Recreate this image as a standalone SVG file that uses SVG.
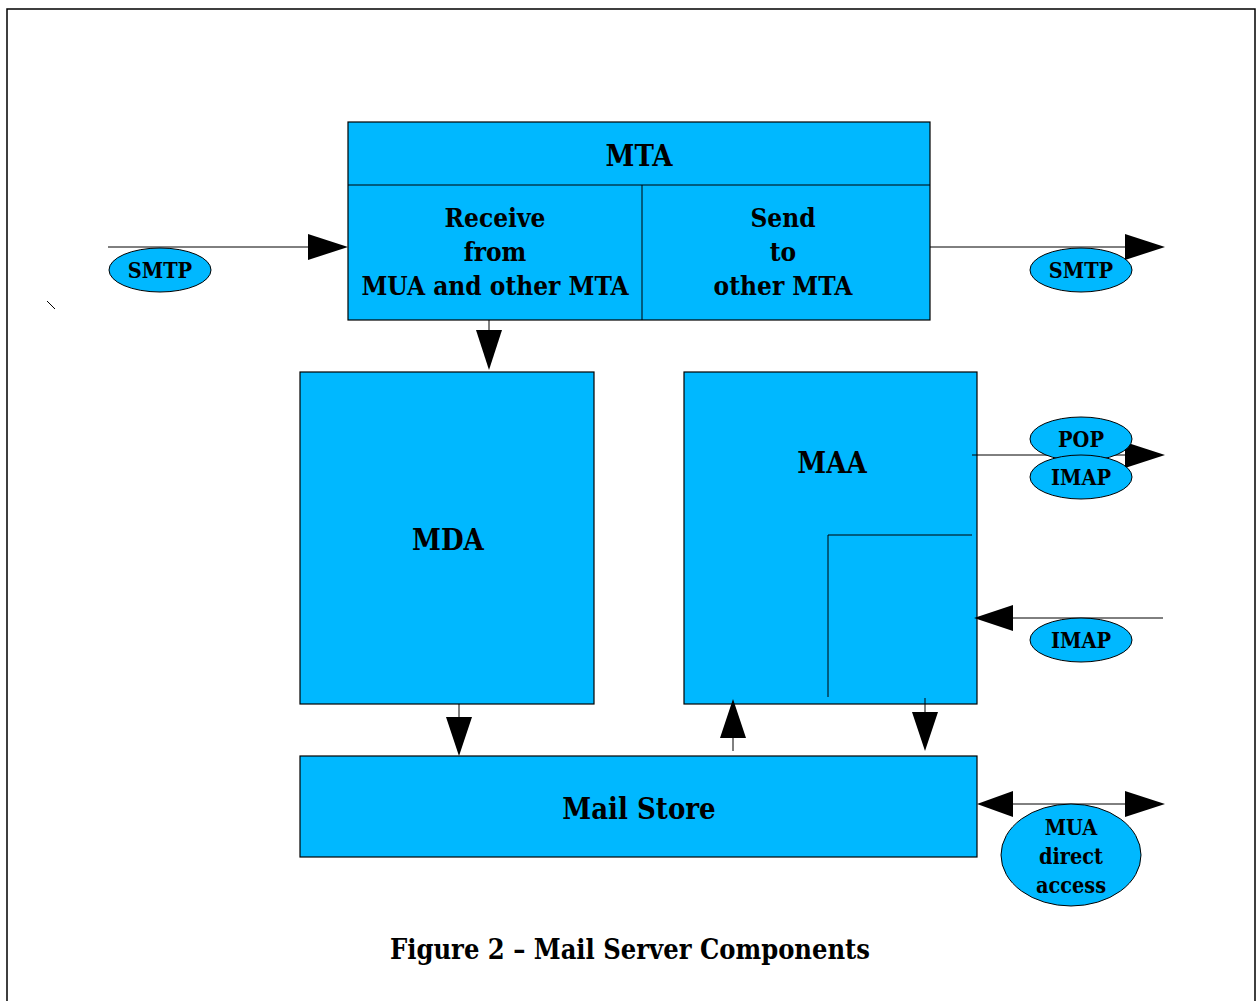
<svg xmlns="http://www.w3.org/2000/svg" width="1260" height="1001" viewBox="0 0 1260 1001">
<style>
.box{fill:#00b8ff;stroke:#000;stroke-width:1.2}
.lbl{fill:#00b8ff;stroke:#000;stroke-width:1}
.ln{stroke:#000;stroke-width:1;fill:none}
.ah{fill:#000}
text{font-family:"DejaVu Serif Condensed","DejaVu Serif",serif;font-weight:bold;fill:#000;text-anchor:middle}
.t29{font-size:29px}
.t26{font-size:26px}
.t27{font-size:27px}
.t21{font-size:21.5px}
</style>
<rect width="1260" height="1001" fill="#fff"/>
<g id="frame">
<path d="M7,1001 V9 H1255 V1001" fill="none" stroke="#000" stroke-width="1.5"/>
<line x1="47" y1="301" x2="55" y2="309" stroke="#000" stroke-width="1"/>
</g>
<g id="mta">
<rect class="box" x="348" y="122" width="582" height="198"/>
<line class="ln" x1="348" y1="185" x2="930" y2="185"/>
<line class="ln" x1="642" y1="185" x2="642" y2="320"/>
<text class="t29" x="639" y="166">MTA</text>
<text class="t26" x="495" y="227">Receive</text>
<text class="t26" x="495" y="261">from</text>
<text class="t26" x="495" y="295">MUA and other MTA</text>
<text class="t26" x="783" y="227">Send</text>
<text class="t26" x="783" y="261">to</text>
<text class="t26" x="783" y="295">other MTA</text>
</g>
<g id="mda">
<rect class="box" x="300" y="372" width="294" height="332"/>
<text class="t29" x="448" y="550">MDA</text>
</g>
<g id="maa">
<rect class="box" x="684" y="372" width="293" height="332"/>
<text class="t29" x="832" y="473">MAA</text>
<path class="ln" d="M828,697 V535 H972"/>
</g>
<g id="mailstore">
<rect class="box" x="300" y="756" width="677" height="101"/>
<text class="t29" x="639" y="819">Mail Store</text>
</g>
<g id="connectors">
<line class="ln" x1="108" y1="247" x2="310" y2="247"/>
<path class="ah" d="M348,247 L308,234 L308,260 Z"/>
<line class="ln" x1="930" y1="247" x2="1127" y2="247"/>
<path class="ah" d="M1165,247 L1125,234 L1125,260 Z"/>
<line class="ln" x1="489" y1="320" x2="489" y2="332"/>
<path class="ah" d="M489,370 L476,330 L502,330 Z"/>
<line class="ln" x1="972" y1="455" x2="1127" y2="455"/>
<path class="ah" d="M1165,455 L1125,442 L1125,468 Z"/>
<line class="ln" x1="1012" y1="618" x2="1163" y2="618" stroke="#555"/>
<path class="ah" d="M974,618 L1013,605 L1013,631 Z"/>
<line class="ln" x1="459" y1="704" x2="459" y2="719"/>
<path class="ah" d="M459,756 L446,717 L472,717 Z"/>
<line class="ln" x1="733" y1="736" x2="733" y2="751"/>
<path class="ah" d="M733,699 L720,738 L746,738 Z"/>
<line class="ln" x1="925" y1="698" x2="925" y2="714"/>
<path class="ah" d="M925,751 L912,712 L938,712 Z"/>
<line class="ln" x1="1012" y1="804" x2="1127" y2="804"/>
<path class="ah" d="M977,804 L1013,791 L1013,817 Z"/>
<path class="ah" d="M1165,804 L1125,791 L1125,817 Z"/>
</g>
<g id="lbl-smtp-in">
<ellipse class="lbl" cx="160" cy="270" rx="51" ry="22"/>
<text class="t21" x="160" y="278">SMTP</text>
</g>
<g id="lbl-smtp-out">
<ellipse class="lbl" cx="1081" cy="270" rx="51" ry="22"/>
<text class="t21" x="1081" y="278">SMTP</text>
</g>
<g id="lbl-pop">
<ellipse class="lbl" cx="1081" cy="439" rx="51" ry="22"/>
<text class="t21" x="1081" y="447">POP</text>
</g>
<g id="lbl-imap-out">
<ellipse class="lbl" cx="1081" cy="477" rx="51" ry="22"/>
<text class="t21" x="1081" y="485">IMAP</text>
</g>
<g id="lbl-imap-in">
<ellipse class="lbl" cx="1081" cy="640" rx="51" ry="22"/>
<text class="t21" x="1081" y="648">IMAP</text>
</g>
<g id="lbl-mua">
<ellipse class="lbl" cx="1071" cy="855" rx="70" ry="51"/>
<text class="t21" x="1071" y="835">MUA</text>
<text class="t21" x="1071" y="864">direct</text>
<text class="t21" x="1071" y="893">access</text>
</g>
<g id="caption">
<text class="t27" x="630" y="959">Figure 2 – Mail Server Components</text>
</g>
</svg>
